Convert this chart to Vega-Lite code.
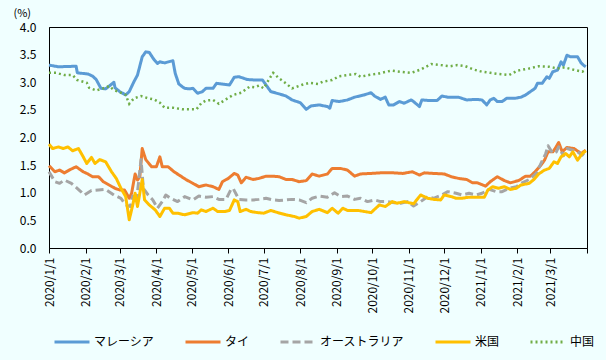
{
  "$schema": "https://vega.github.io/schema/vega-lite/v6.json",
  "width": 538,
  "height": 221,
  "autosize": "none",
  "padding": {"left": 49, "top": 27, "right": 19, "bottom": 112},
  "background": "#F0FFFF",
  "config": {
    "view": {"stroke": "#000000", "strokeWidth": 1},
    "font": "Noto Sans CJK JP",
    "axis": {"labelColor": "#000000", "domainColor": "#000000", "tickColor": "#000000", "grid": false, "labelFont": "Noto Sans CJK JP", "titleFont": "Noto Sans CJK JP"},
    "legend": {"labelFont": "Noto Sans CJK JP"}
  },
  "encoding": {
    "x": {
      "field": "d", "type": "temporal",
      "scale": {"domain": [{"year": 2020, "month": 1, "date": 1}, {"year": 2021, "month": 4, "date": 1}]},
      "axis": {
        "title": null,
        "tickCount": {"interval": "month", "step": 1},
        "labelExpr": "timeFormat(datum.value, '%Y/%-m/%-d') == '2021/4/1' ? '' : timeFormat(datum.value, '%Y/%-m/%-d')",
        "labelAngle": 270,
        "labelFontSize": 12,
        "labelPadding": 4,
        "tickSize": 5,
        "labelOverlap": false,
        "labelFlush": false,
        "labelBound": false
      }
    },
    "y": {
      "field": "v", "type": "quantitative",
      "scale": {"domain": [0, 4], "nice": false},
      "axis": {
        "values": [0, 0.5, 1, 1.5, 2, 2.5, 3, 3.5, 4],
        "format": ".1f",
        "ticks": false,
        "labelPadding": 13,
        "labelFontSize": 12,
        "title": "(%)",
        "titleAngle": 0,
        "titleAlign": "left",
        "titleBaseline": "middle",
        "titleX": -36,
        "titleY": -14,
        "titleFontSize": 11,
        "titleFontWeight": "normal"
      }
    },
    "color": {
      "datum": "マレーシア",
      "type": "nominal",
      "scale": {
        "domain": ["マレーシア", "タイ", "オーストラリア", "米国", "中国"],
        "range": ["#5B9BD5", "#ED7D31", "#A5A5A5", "#FFC000", "#70AD47"]
      },
      "legend": {
        "title": null,
        "orient": "none",
        "legendX": 4,
        "legendY": 296,
        "direction": "horizontal",
        "symbolType": "stroke",
        "symbolSize": 1225,
        "symbolStrokeWidth": 3,
        "labelFontSize": 12,
        "labelOffset": 3,
        "columnPadding": 24,
        "padding": 0,
        "labelColor": "#000000"
      }
    },
    "strokeDash": {
      "datum": "マレーシア",
      "type": "nominal",
      "scale": {
        "domain": ["マレーシア", "タイ", "オーストラリア", "米国", "中国"],
        "range": [[1, 0], [1, 0], [8, 4], [1, 0], [2, 3]]
      },
      "legend": {
        "title": null,
        "orient": "none",
        "legendX": 4,
        "legendY": 296,
        "direction": "horizontal",
        "symbolType": "stroke",
        "symbolSize": 1225,
        "symbolStrokeWidth": 3,
        "labelFontSize": 12,
        "labelOffset": 3,
        "columnPadding": 24,
        "padding": 0,
        "labelColor": "#000000"
      }
    }
  },
  "layer": [
    {
      "mark": {"type": "line", "strokeWidth": 3, "strokeJoin": "round"},
      "encoding": {"color": {"datum": "マレーシア", "type": "nominal"}, "strokeDash": {"datum": "マレーシア", "type": "nominal"}},
      "data": {"values": [
        {"d": "2020/1/1", "v": 3.31}, {"d": "2020/1/9", "v": 3.28}, {"d": "2020/1/24", "v": 3.29}, {"d": "2020/1/25", "v": 3.17},
        {"d": "2020/2/3", "v": 3.15}, {"d": "2020/2/7", "v": 3.11}, {"d": "2020/2/10", "v": 3.05}, {"d": "2020/2/14", "v": 2.89},
        {"d": "2020/2/18", "v": 2.88}, {"d": "2020/2/21", "v": 2.93}, {"d": "2020/2/25", "v": 3.0}, {"d": "2020/2/26", "v": 2.9},
        {"d": "2020/3/1", "v": 2.83}, {"d": "2020/3/6", "v": 2.77}, {"d": "2020/3/9", "v": 2.83}, {"d": "2020/3/13", "v": 3.01},
        {"d": "2020/3/16", "v": 3.13}, {"d": "2020/3/20", "v": 3.46}, {"d": "2020/3/23", "v": 3.55}, {"d": "2020/3/26", "v": 3.54},
        {"d": "2020/3/30", "v": 3.41}, {"d": "2020/4/2", "v": 3.34}, {"d": "2020/4/4", "v": 3.37}, {"d": "2020/4/8", "v": 3.35},
        {"d": "2020/4/15", "v": 3.39}, {"d": "2020/4/17", "v": 3.16}, {"d": "2020/4/20", "v": 2.97}, {"d": "2020/4/23", "v": 2.92},
        {"d": "2020/4/25", "v": 2.89}, {"d": "2020/4/29", "v": 2.88}, {"d": "2020/5/2", "v": 2.89}, {"d": "2020/5/6", "v": 2.8},
        {"d": "2020/5/10", "v": 2.83}, {"d": "2020/5/13", "v": 2.89}, {"d": "2020/5/19", "v": 2.89}, {"d": "2020/5/22", "v": 2.98},
        {"d": "2020/6/2", "v": 2.95}, {"d": "2020/6/6", "v": 3.09}, {"d": "2020/6/10", "v": 3.1}, {"d": "2020/6/17", "v": 3.05},
        {"d": "2020/6/24", "v": 3.04}, {"d": "2020/6/30", "v": 3.04}, {"d": "2020/7/3", "v": 2.95}, {"d": "2020/7/7", "v": 2.83},
        {"d": "2020/7/14", "v": 2.79}, {"d": "2020/7/20", "v": 2.75}, {"d": "2020/7/25", "v": 2.68}, {"d": "2020/8/1", "v": 2.63},
        {"d": "2020/8/6", "v": 2.51}, {"d": "2020/8/10", "v": 2.57}, {"d": "2020/8/17", "v": 2.59}, {"d": "2020/8/24", "v": 2.56},
        {"d": "2020/8/26", "v": 2.53}, {"d": "2020/8/28", "v": 2.67}, {"d": "2020/9/3", "v": 2.65}, {"d": "2020/9/10", "v": 2.68},
        {"d": "2020/9/16", "v": 2.73}, {"d": "2020/9/24", "v": 2.77}, {"d": "2020/9/30", "v": 2.81}, {"d": "2020/10/3", "v": 2.75},
        {"d": "2020/10/8", "v": 2.69}, {"d": "2020/10/12", "v": 2.73}, {"d": "2020/10/15", "v": 2.59}, {"d": "2020/10/19", "v": 2.59},
        {"d": "2020/10/24", "v": 2.65}, {"d": "2020/10/28", "v": 2.62}, {"d": "2020/11/3", "v": 2.68}, {"d": "2020/11/5", "v": 2.65},
        {"d": "2020/11/10", "v": 2.56}, {"d": "2020/11/12", "v": 2.68}, {"d": "2020/11/18", "v": 2.67}, {"d": "2020/11/25", "v": 2.67},
        {"d": "2020/11/29", "v": 2.75}, {"d": "2020/12/4", "v": 2.73}, {"d": "2020/12/13", "v": 2.73}, {"d": "2020/12/20", "v": 2.68},
        {"d": "2020/12/28", "v": 2.69}, {"d": "2021/1/2", "v": 2.68}, {"d": "2021/1/6", "v": 2.59}, {"d": "2021/1/9", "v": 2.68},
        {"d": "2021/1/12", "v": 2.71}, {"d": "2021/1/15", "v": 2.65}, {"d": "2021/1/19", "v": 2.65}, {"d": "2021/1/23", "v": 2.71},
        {"d": "2021/1/30", "v": 2.71}, {"d": "2021/2/4", "v": 2.73}, {"d": "2021/2/8", "v": 2.77}, {"d": "2021/2/12", "v": 2.83},
        {"d": "2021/2/16", "v": 2.89}, {"d": "2021/2/18", "v": 2.98}, {"d": "2021/2/22", "v": 2.98}, {"d": "2021/2/26", "v": 3.1},
        {"d": "2021/2/28", "v": 3.07}, {"d": "2021/3/3", "v": 3.19}, {"d": "2021/3/7", "v": 3.22}, {"d": "2021/3/10", "v": 3.37},
        {"d": "2021/3/12", "v": 3.31}, {"d": "2021/3/15", "v": 3.49}, {"d": "2021/3/18", "v": 3.46}, {"d": "2021/3/24", "v": 3.46},
        {"d": "2021/3/27", "v": 3.35}, {"d": "2021/3/29", "v": 3.31}, {"d": "2021/3/31", "v": 3.28}
      ]}
    },
    {
      "mark": {"type": "line", "strokeWidth": 3, "strokeJoin": "round"},
      "encoding": {"color": {"datum": "タイ", "type": "nominal"}, "strokeDash": {"datum": "タイ", "type": "nominal"}},
      "data": {"values": [
        {"d": "2020/1/1", "v": 1.49}, {"d": "2020/1/6", "v": 1.38}, {"d": "2020/1/10", "v": 1.41}, {"d": "2020/1/14", "v": 1.36},
        {"d": "2020/1/19", "v": 1.42}, {"d": "2020/1/24", "v": 1.47}, {"d": "2020/1/30", "v": 1.38}, {"d": "2020/2/3", "v": 1.34},
        {"d": "2020/2/7", "v": 1.29}, {"d": "2020/2/12", "v": 1.29}, {"d": "2020/2/16", "v": 1.2}, {"d": "2020/2/21", "v": 1.14},
        {"d": "2020/2/26", "v": 1.08}, {"d": "2020/3/1", "v": 1.05}, {"d": "2020/3/5", "v": 1.05}, {"d": "2020/3/9", "v": 0.9},
        {"d": "2020/3/11", "v": 0.99}, {"d": "2020/3/14", "v": 1.34}, {"d": "2020/3/16", "v": 1.23}, {"d": "2020/3/18", "v": 1.29},
        {"d": "2020/3/20", "v": 1.8}, {"d": "2020/3/23", "v": 1.6}, {"d": "2020/3/28", "v": 1.47}, {"d": "2020/4/1", "v": 1.47},
        {"d": "2020/4/4", "v": 1.65}, {"d": "2020/4/6", "v": 1.47}, {"d": "2020/4/11", "v": 1.47}, {"d": "2020/4/16", "v": 1.38},
        {"d": "2020/4/21", "v": 1.31}, {"d": "2020/4/26", "v": 1.24}, {"d": "2020/5/2", "v": 1.17}, {"d": "2020/5/7", "v": 1.11},
        {"d": "2020/5/13", "v": 1.14}, {"d": "2020/5/19", "v": 1.11}, {"d": "2020/5/24", "v": 1.06}, {"d": "2020/5/27", "v": 1.2},
        {"d": "2020/6/1", "v": 1.26}, {"d": "2020/6/6", "v": 1.35}, {"d": "2020/6/9", "v": 1.32}, {"d": "2020/6/12", "v": 1.18},
        {"d": "2020/6/16", "v": 1.28}, {"d": "2020/6/22", "v": 1.24}, {"d": "2020/6/27", "v": 1.26}, {"d": "2020/7/3", "v": 1.3},
        {"d": "2020/7/9", "v": 1.3}, {"d": "2020/7/14", "v": 1.29}, {"d": "2020/7/20", "v": 1.24}, {"d": "2020/7/25", "v": 1.24},
        {"d": "2020/7/31", "v": 1.2}, {"d": "2020/8/6", "v": 1.22}, {"d": "2020/8/11", "v": 1.34}, {"d": "2020/8/17", "v": 1.3},
        {"d": "2020/8/24", "v": 1.34}, {"d": "2020/8/28", "v": 1.44}, {"d": "2020/9/4", "v": 1.44}, {"d": "2020/9/10", "v": 1.41},
        {"d": "2020/9/16", "v": 1.3}, {"d": "2020/9/21", "v": 1.34}, {"d": "2020/9/30", "v": 1.35}, {"d": "2020/10/8", "v": 1.36},
        {"d": "2020/10/19", "v": 1.36}, {"d": "2020/10/27", "v": 1.35}, {"d": "2020/11/4", "v": 1.38}, {"d": "2020/11/10", "v": 1.32},
        {"d": "2020/11/14", "v": 1.36}, {"d": "2020/11/22", "v": 1.35}, {"d": "2020/12/1", "v": 1.34}, {"d": "2020/12/7", "v": 1.29},
        {"d": "2020/12/13", "v": 1.26}, {"d": "2020/12/20", "v": 1.24}, {"d": "2020/12/25", "v": 1.18}, {"d": "2020/12/29", "v": 1.18},
        {"d": "2021/1/5", "v": 1.12}, {"d": "2021/1/9", "v": 1.2}, {"d": "2021/1/15", "v": 1.29}, {"d": "2021/1/21", "v": 1.22},
        {"d": "2021/1/26", "v": 1.18}, {"d": "2021/2/2", "v": 1.22}, {"d": "2021/2/8", "v": 1.3}, {"d": "2021/2/12", "v": 1.3},
        {"d": "2021/2/16", "v": 1.38}, {"d": "2021/2/21", "v": 1.5}, {"d": "2021/2/24", "v": 1.59}, {"d": "2021/2/27", "v": 1.74},
        {"d": "2021/3/3", "v": 1.74}, {"d": "2021/3/5", "v": 1.8}, {"d": "2021/3/8", "v": 1.91}, {"d": "2021/3/11", "v": 1.74},
        {"d": "2021/3/15", "v": 1.82}, {"d": "2021/3/21", "v": 1.8}, {"d": "2021/3/27", "v": 1.71}, {"d": "2021/3/31", "v": 1.77}
      ]}
    },
    {
      "mark": {"type": "line", "strokeWidth": 3, "strokeJoin": "round"},
      "encoding": {"color": {"datum": "オーストラリア", "type": "nominal"}, "strokeDash": {"datum": "オーストラリア", "type": "nominal"}},
      "data": {"values": [
        {"d": "2020/1/1", "v": 1.38}, {"d": "2020/1/6", "v": 1.2}, {"d": "2020/1/10", "v": 1.17}, {"d": "2020/1/14", "v": 1.23},
        {"d": "2020/1/20", "v": 1.17}, {"d": "2020/1/27", "v": 1.04}, {"d": "2020/1/31", "v": 0.96}, {"d": "2020/2/6", "v": 1.04},
        {"d": "2020/2/12", "v": 1.05}, {"d": "2020/2/18", "v": 1.06}, {"d": "2020/2/25", "v": 0.96}, {"d": "2020/3/2", "v": 0.9},
        {"d": "2020/3/6", "v": 0.78}, {"d": "2020/3/10", "v": 0.75}, {"d": "2020/3/12", "v": 0.94}, {"d": "2020/3/15", "v": 0.82},
        {"d": "2020/3/19", "v": 1.6}, {"d": "2020/3/21", "v": 1.08}, {"d": "2020/3/25", "v": 0.96}, {"d": "2020/3/29", "v": 0.87},
        {"d": "2020/4/2", "v": 0.72}, {"d": "2020/4/6", "v": 0.84}, {"d": "2020/4/9", "v": 0.96}, {"d": "2020/4/13", "v": 0.9},
        {"d": "2020/4/19", "v": 0.84}, {"d": "2020/4/25", "v": 0.93}, {"d": "2020/5/2", "v": 0.87}, {"d": "2020/5/7", "v": 0.94},
        {"d": "2020/5/13", "v": 0.92}, {"d": "2020/5/19", "v": 0.93}, {"d": "2020/5/24", "v": 0.88}, {"d": "2020/5/30", "v": 0.88},
        {"d": "2020/6/3", "v": 1.05}, {"d": "2020/6/5", "v": 1.08}, {"d": "2020/6/8", "v": 0.96}, {"d": "2020/6/10", "v": 0.88},
        {"d": "2020/6/16", "v": 0.87}, {"d": "2020/6/22", "v": 0.87}, {"d": "2020/6/27", "v": 0.88}, {"d": "2020/7/3", "v": 0.9},
        {"d": "2020/7/9", "v": 0.87}, {"d": "2020/7/14", "v": 0.86}, {"d": "2020/7/20", "v": 0.87}, {"d": "2020/7/25", "v": 0.88},
        {"d": "2020/7/31", "v": 0.87}, {"d": "2020/8/6", "v": 0.82}, {"d": "2020/8/11", "v": 0.9}, {"d": "2020/8/17", "v": 0.94},
        {"d": "2020/8/24", "v": 0.92}, {"d": "2020/8/30", "v": 1.0}, {"d": "2020/9/4", "v": 0.93}, {"d": "2020/9/10", "v": 0.94},
        {"d": "2020/9/16", "v": 0.88}, {"d": "2020/9/21", "v": 0.9}, {"d": "2020/9/27", "v": 0.84}, {"d": "2020/10/3", "v": 0.87},
        {"d": "2020/10/8", "v": 0.84}, {"d": "2020/10/14", "v": 0.84}, {"d": "2020/10/20", "v": 0.82}, {"d": "2020/10/25", "v": 0.81},
        {"d": "2020/10/31", "v": 0.84}, {"d": "2020/11/5", "v": 0.76}, {"d": "2020/11/11", "v": 0.84}, {"d": "2020/11/17", "v": 0.93},
        {"d": "2020/11/22", "v": 0.9}, {"d": "2020/11/29", "v": 0.96}, {"d": "2020/12/4", "v": 1.02}, {"d": "2020/12/11", "v": 0.99},
        {"d": "2020/12/16", "v": 0.96}, {"d": "2020/12/22", "v": 0.99}, {"d": "2020/12/28", "v": 0.96}, {"d": "2021/1/2", "v": 0.99},
        {"d": "2021/1/8", "v": 1.06}, {"d": "2021/1/14", "v": 1.02}, {"d": "2021/1/19", "v": 1.02}, {"d": "2021/1/25", "v": 1.08},
        {"d": "2021/1/31", "v": 1.11}, {"d": "2021/2/5", "v": 1.18}, {"d": "2021/2/11", "v": 1.24}, {"d": "2021/2/17", "v": 1.35},
        {"d": "2021/2/21", "v": 1.53}, {"d": "2021/2/25", "v": 1.71}, {"d": "2021/2/27", "v": 1.85}, {"d": "2021/3/3", "v": 1.71},
        {"d": "2021/3/6", "v": 1.74}, {"d": "2021/3/8", "v": 1.83}, {"d": "2021/3/12", "v": 1.67}, {"d": "2021/3/15", "v": 1.8},
        {"d": "2021/3/20", "v": 1.77}, {"d": "2021/3/24", "v": 1.74}, {"d": "2021/3/28", "v": 1.68}, {"d": "2021/3/31", "v": 1.76}
      ]}
    },
    {
      "mark": {"type": "line", "strokeWidth": 3, "strokeJoin": "round"},
      "encoding": {"color": {"datum": "米国", "type": "nominal"}, "strokeDash": {"datum": "米国", "type": "nominal"}},
      "data": {"values": [
        {"d": "2020/1/1", "v": 1.88}, {"d": "2020/1/4", "v": 1.8}, {"d": "2020/1/9", "v": 1.83}, {"d": "2020/1/13", "v": 1.8},
        {"d": "2020/1/17", "v": 1.83}, {"d": "2020/1/21", "v": 1.76}, {"d": "2020/1/26", "v": 1.8}, {"d": "2020/1/30", "v": 1.65},
        {"d": "2020/2/2", "v": 1.53}, {"d": "2020/2/6", "v": 1.64}, {"d": "2020/2/9", "v": 1.53}, {"d": "2020/2/13", "v": 1.6},
        {"d": "2020/2/18", "v": 1.56}, {"d": "2020/2/23", "v": 1.38}, {"d": "2020/2/27", "v": 1.26}, {"d": "2020/3/2", "v": 1.08},
        {"d": "2020/3/6", "v": 0.93}, {"d": "2020/3/9", "v": 0.51}, {"d": "2020/3/12", "v": 0.78}, {"d": "2020/3/14", "v": 0.99},
        {"d": "2020/3/16", "v": 0.75}, {"d": "2020/3/20", "v": 1.24}, {"d": "2020/3/22", "v": 0.87}, {"d": "2020/3/26", "v": 0.78},
        {"d": "2020/3/31", "v": 0.69}, {"d": "2020/4/4", "v": 0.57}, {"d": "2020/4/8", "v": 0.72}, {"d": "2020/4/12", "v": 0.72},
        {"d": "2020/4/15", "v": 0.63}, {"d": "2020/4/19", "v": 0.63}, {"d": "2020/4/25", "v": 0.6}, {"d": "2020/5/2", "v": 0.64},
        {"d": "2020/5/6", "v": 0.63}, {"d": "2020/5/9", "v": 0.69}, {"d": "2020/5/13", "v": 0.66}, {"d": "2020/5/19", "v": 0.72},
        {"d": "2020/5/23", "v": 0.66}, {"d": "2020/5/29", "v": 0.66}, {"d": "2020/6/2", "v": 0.68}, {"d": "2020/6/6", "v": 0.87},
        {"d": "2020/6/9", "v": 0.84}, {"d": "2020/6/11", "v": 0.66}, {"d": "2020/6/16", "v": 0.7}, {"d": "2020/6/20", "v": 0.66},
        {"d": "2020/6/26", "v": 0.64}, {"d": "2020/7/1", "v": 0.63}, {"d": "2020/7/7", "v": 0.68}, {"d": "2020/7/13", "v": 0.64},
        {"d": "2020/7/20", "v": 0.6}, {"d": "2020/7/27", "v": 0.57}, {"d": "2020/7/31", "v": 0.54}, {"d": "2020/8/6", "v": 0.57},
        {"d": "2020/8/11", "v": 0.66}, {"d": "2020/8/17", "v": 0.7}, {"d": "2020/8/24", "v": 0.64}, {"d": "2020/8/28", "v": 0.72},
        {"d": "2020/9/2", "v": 0.63}, {"d": "2020/9/6", "v": 0.72}, {"d": "2020/9/10", "v": 0.68}, {"d": "2020/9/19", "v": 0.68},
        {"d": "2020/9/30", "v": 0.64}, {"d": "2020/10/7", "v": 0.78}, {"d": "2020/10/12", "v": 0.75}, {"d": "2020/10/18", "v": 0.84},
        {"d": "2020/10/22", "v": 0.81}, {"d": "2020/10/28", "v": 0.84}, {"d": "2020/11/1", "v": 0.82}, {"d": "2020/11/5", "v": 0.8},
        {"d": "2020/11/11", "v": 0.96}, {"d": "2020/11/17", "v": 0.9}, {"d": "2020/11/22", "v": 0.88}, {"d": "2020/11/28", "v": 0.87},
        {"d": "2020/12/1", "v": 0.96}, {"d": "2020/12/7", "v": 0.93}, {"d": "2020/12/11", "v": 0.9}, {"d": "2020/12/16", "v": 0.9},
        {"d": "2020/12/22", "v": 0.92}, {"d": "2020/12/29", "v": 0.92}, {"d": "2021/1/4", "v": 0.92}, {"d": "2021/1/7", "v": 1.05},
        {"d": "2021/1/11", "v": 1.11}, {"d": "2021/1/16", "v": 1.08}, {"d": "2021/1/21", "v": 1.11}, {"d": "2021/1/26", "v": 1.06},
        {"d": "2021/1/31", "v": 1.08}, {"d": "2021/2/4", "v": 1.14}, {"d": "2021/2/11", "v": 1.17}, {"d": "2021/2/15", "v": 1.24},
        {"d": "2021/2/19", "v": 1.34}, {"d": "2021/2/24", "v": 1.41}, {"d": "2021/2/28", "v": 1.44}, {"d": "2021/3/4", "v": 1.56},
        {"d": "2021/3/7", "v": 1.53}, {"d": "2021/3/10", "v": 1.65}, {"d": "2021/3/14", "v": 1.71}, {"d": "2021/3/17", "v": 1.65},
        {"d": "2021/3/20", "v": 1.74}, {"d": "2021/3/24", "v": 1.59}, {"d": "2021/3/28", "v": 1.71}, {"d": "2021/3/31", "v": 1.76}
      ]}
    },
    {
      "mark": {"type": "line", "strokeWidth": 2.5},
      "encoding": {"color": {"datum": "中国", "type": "nominal"}, "strokeDash": {"datum": "中国", "type": "nominal"}},
      "data": {"values": [
        {"d": "2020/1/1", "v": 3.17}, {"d": "2020/1/7", "v": 3.17}, {"d": "2020/1/14", "v": 3.13}, {"d": "2020/1/21", "v": 3.13},
        {"d": "2020/1/25", "v": 3.04}, {"d": "2020/2/2", "v": 2.99}, {"d": "2020/2/4", "v": 2.9}, {"d": "2020/2/10", "v": 2.85},
        {"d": "2020/2/16", "v": 2.89}, {"d": "2020/2/21", "v": 2.93}, {"d": "2020/2/25", "v": 2.86}, {"d": "2020/3/2", "v": 2.81},
        {"d": "2020/3/6", "v": 2.77}, {"d": "2020/3/9", "v": 2.61}, {"d": "2020/3/13", "v": 2.71}, {"d": "2020/3/19", "v": 2.75},
        {"d": "2020/3/25", "v": 2.71}, {"d": "2020/3/30", "v": 2.69}, {"d": "2020/4/4", "v": 2.63}, {"d": "2020/4/8", "v": 2.54},
        {"d": "2020/4/15", "v": 2.54}, {"d": "2020/4/23", "v": 2.51}, {"d": "2020/4/28", "v": 2.51}, {"d": "2020/5/5", "v": 2.51},
        {"d": "2020/5/9", "v": 2.62}, {"d": "2020/5/13", "v": 2.67}, {"d": "2020/5/19", "v": 2.68}, {"d": "2020/5/24", "v": 2.61},
        {"d": "2020/5/30", "v": 2.69}, {"d": "2020/6/5", "v": 2.77}, {"d": "2020/6/12", "v": 2.81}, {"d": "2020/6/19", "v": 2.92},
        {"d": "2020/6/23", "v": 2.91}, {"d": "2020/6/27", "v": 2.94}, {"d": "2020/7/1", "v": 2.89}, {"d": "2020/7/6", "v": 3.07},
        {"d": "2020/7/9", "v": 3.17}, {"d": "2020/7/14", "v": 3.07}, {"d": "2020/7/18", "v": 3.01}, {"d": "2020/7/25", "v": 2.89},
        {"d": "2020/8/2", "v": 2.95}, {"d": "2020/8/9", "v": 2.99}, {"d": "2020/8/16", "v": 2.97}, {"d": "2020/8/20", "v": 3.01},
        {"d": "2020/8/28", "v": 3.04}, {"d": "2020/9/3", "v": 3.11}, {"d": "2020/9/10", "v": 3.13}, {"d": "2020/9/17", "v": 3.15},
        {"d": "2020/9/21", "v": 3.1}, {"d": "2020/9/28", "v": 3.13}, {"d": "2020/10/7", "v": 3.16}, {"d": "2020/10/17", "v": 3.21},
        {"d": "2020/10/25", "v": 3.19}, {"d": "2020/11/3", "v": 3.17}, {"d": "2020/11/11", "v": 3.23}, {"d": "2020/11/20", "v": 3.33},
        {"d": "2020/11/28", "v": 3.31}, {"d": "2020/12/6", "v": 3.29}, {"d": "2020/12/12", "v": 3.31}, {"d": "2020/12/19", "v": 3.29},
        {"d": "2020/12/26", "v": 3.23}, {"d": "2021/1/2", "v": 3.19}, {"d": "2021/1/9", "v": 3.17}, {"d": "2021/1/16", "v": 3.15},
        {"d": "2021/1/25", "v": 3.13}, {"d": "2021/2/1", "v": 3.21}, {"d": "2021/2/11", "v": 3.25}, {"d": "2021/2/19", "v": 3.29},
        {"d": "2021/2/28", "v": 3.28}, {"d": "2021/3/7", "v": 3.25}, {"d": "2021/3/13", "v": 3.27}, {"d": "2021/3/20", "v": 3.23},
        {"d": "2021/3/28", "v": 3.19}, {"d": "2021/3/31", "v": 3.23}
      ]}
    }
  ]
}
